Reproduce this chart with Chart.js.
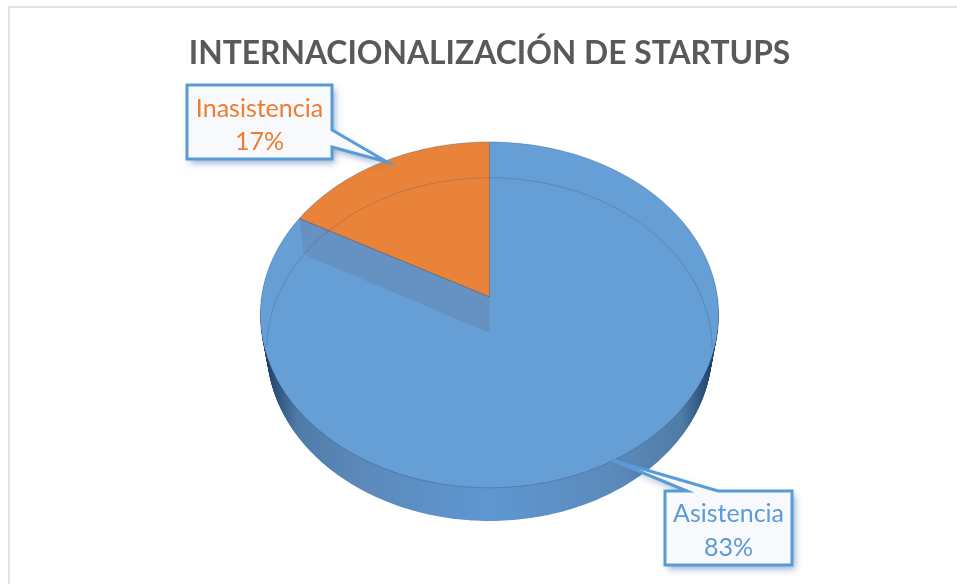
<!DOCTYPE html>
<html lang="es"><head><meta charset="utf-8">
<style>html,body{margin:0;padding:0;background:#fff}canvas{display:block}</style>
<script src="https://cdn.jsdelivr.net/npm/chart.js@4"></script>
</head><body>
<canvas id="c" width="957" height="584"></canvas>
<script>
const categories = ['Asistencia', 'Inasistencia'];
const values = [83, 17];
const sliceColors = ['#669fd6', '#e9833a'];
const labelColors = ['#5b9bd5', '#ed7d31'];
const chartTitle = 'INTERNACIONALIZACIÓN DE STARTUPS';

// Perspective camera: top face and the base of the extruded pie
const topFace = {dy: 0, p: 0.104, ry: 171, rx: 0.9948};
const baseFace = {dy: 36, p: 0.096, ry: 170, rx: 0.9673};
const wallColor = '#6592c2';
const LEVELS = 36;

function mix(a, b, t) { return a + (b - a) * t; }
function face(t) {
  return {dy: mix(topFace.dy, baseFace.dy, t), p: mix(topFace.p, baseFace.p, t),
          ry: mix(topFace.ry, baseFace.ry, t), rx: mix(topFace.rx, baseFace.rx, t)};
}
function project(el, f, a) {
  const u = Math.cos(a), v = Math.sin(a), d = 1 - f.p * v;
  return [el.x + el.outerRadius * f.rx * u / d, el.y + f.dy + f.ry * v / d];
}
function tracePath(ctx, el, f, withApex) {
  const n = Math.max(8, Math.ceil((el.endAngle - el.startAngle) * 60));
  ctx.beginPath();
  if (withApex) ctx.moveTo(el.x, el.y + f.dy);
  for (let i = 0; i <= n; i++) {
    const p = project(el, f, mix(el.startAngle, el.endAngle, i / n));
    if (i === 0 && !withApex) ctx.moveTo(p[0], p[1]); else ctx.lineTo(p[0], p[1]);
  }
  if (withApex) ctx.closePath();
}
function sideGradient(ctx, el) {
  const x = el.x, r = el.outerRadius;
  const g = ctx.createLinearGradient(x - r, 0, x + r, 0);
  g.addColorStop(0.00, '#16324f');
  g.addColorStop(0.03, '#2a4f78');
  g.addColorStop(0.08, '#4f7ba8');
  g.addColorStop(0.20, '#5b88b8');
  g.addColorStop(0.50, '#5f97d2');
  g.addColorStop(0.80, '#5b88b8');
  g.addColorStop(0.92, '#4f7ba8');
  g.addColorStop(0.97, '#2a4f78');
  g.addColorStop(1.00, '#16324f');
  return g;
}
Chart.ArcElement.prototype.draw = function (ctx) {
  const base = this.options.backgroundColor;
  ctx.save();
  ctx.lineJoin = 'round';
  if (base === sliceColors[0]) {
    const g = sideGradient(ctx, this);
    for (let i = LEVELS; i >= 1; i--) {
      tracePath(ctx, this, face(i / LEVELS), true);
      ctx.fillStyle = g;
      ctx.fill();
    }
  }
  tracePath(ctx, this, topFace, true);
  ctx.fillStyle = base;
  ctx.fill();
  // Cut wall seen through the slice edge
  if (base === sliceColors[1]) {
    const a = project(this, topFace, this.startAngle), b = project(this, baseFace, this.startAngle);
    ctx.beginPath();
    ctx.moveTo(this.x, this.y); ctx.lineTo(a[0], a[1]); ctx.lineTo(b[0], b[1]);
    ctx.lineTo(this.x, this.y + baseFace.dy); ctx.closePath();
    ctx.fillStyle = wallColor;
    ctx.fill();
    ctx.beginPath();
    ctx.moveTo(this.x, this.y); ctx.lineTo(a[0], a[1]);
    ctx.strokeStyle = 'rgba(70,70,80,0.55)';
    ctx.lineWidth = 1;
    ctx.stroke();
    ctx.beginPath();
    ctx.moveTo(this.x, this.y); ctx.lineTo(this.x, this.y - 155);
    ctx.strokeStyle = 'rgba(90,90,100,0.45)';
    ctx.stroke();
  }
  // Far base edge seen through the glass-like top, and the rim
  ctx.strokeStyle = 'rgba(50,70,100,0.25)';
  ctx.lineWidth = 1;
  ctx.save();
  ctx.beginPath();
  ctx.rect(0, 0, 957, this.y + 50);
  ctx.clip();
  tracePath(ctx, this, baseFace, false);
  ctx.stroke();
  ctx.restore();
  tracePath(ctx, this, topFace, false);
  ctx.strokeStyle = 'rgba(40,70,110,0.32)';
  ctx.stroke();
  ctx.restore();
};

const frameLines = {
  id: 'frameLines',
  beforeDraw(chart) {
    const ctx = chart.ctx;
    ctx.save();
    ctx.strokeStyle = '#d9d9d9';
    ctx.lineWidth = 1.5;
    ctx.beginPath();
    ctx.moveTo(9, 584); ctx.lineTo(9, 7); ctx.lineTo(957, 7);
    ctx.stroke();
    ctx.restore();
  }
};

const callouts = [
  {index: 1, box: [187, 85, 145, 74], leader: [[332, 130], [387, 162], [332, 147]], lines: [117, 150], cx: 259.5},
  {index: 0, box: [665, 491, 127, 74], leader: [[718, 491], [612, 460], [687, 491]], lines: [522, 556], cx: 728.5}
];
const calloutPlugin = {
  id: 'calloutPlugin',
  afterDraw(chart) {
    const ctx = chart.ctx;
    ctx.save();
    callouts.forEach(c => {
      const [x, y, w, h] = c.box, L = c.leader;
      const outline = () => {
        ctx.beginPath();
        if (c.index === 1) {
          ctx.moveTo(x, y); ctx.lineTo(x + w, y); ctx.lineTo(L[0][0], L[0][1]);
          ctx.lineTo(L[1][0], L[1][1]); ctx.lineTo(L[2][0], L[2][1]);
          ctx.lineTo(x + w, y + h); ctx.lineTo(x, y + h);
        } else {
          ctx.moveTo(x, y); ctx.lineTo(L[2][0], L[2][1]); ctx.lineTo(L[1][0], L[1][1]);
          ctx.lineTo(L[0][0], L[0][1]); ctx.lineTo(x + w, y);
          ctx.lineTo(x + w, y + h); ctx.lineTo(x, y + h);
        }
        ctx.closePath();
      };
      ctx.shadowColor = 'rgba(60,110,170,0.55)';
      ctx.shadowBlur = 7;
      ctx.shadowOffsetX = 3;
      ctx.shadowOffsetY = 4;
      outline();
      ctx.fillStyle = '#f7f9fd';
      ctx.fill();
      ctx.shadowColor = 'transparent';
      ctx.strokeStyle = '#5b9bd5';
      ctx.lineWidth = 3;
      ctx.lineJoin = 'miter';
      outline();
      ctx.stroke();
      ctx.fillStyle = labelColors[c.index];
      ctx.font = '400 25px Lato';
      ctx.textAlign = 'center';
      ctx.textBaseline = 'alphabetic';
      ctx.fillText(categories[c.index], c.cx, c.lines[0]);
      ctx.fillText(values[c.index] + '%', c.cx, c.lines[1]);
    });
    ctx.restore();
  }
};

new Chart(document.getElementById('c'), {
  type: 'pie',
  data: {labels: categories, datasets: [{data: values, backgroundColor: sliceColors, borderWidth: 0}]},
  options: {
    responsive: false,
    animation: false,
    events: [],
    layout: {padding: {left: 22, right: 0, top: 0, bottom: 58}},
    plugins: {
      legend: {display: false},
      tooltip: {enabled: false},
      title: {
        display: true, text: chartTitle, color: '#595959', align: 'center',
        font: {family: 'Lato', size: 31.8, weight: '700', lineHeight: 1},
        padding: {top: 38, bottom: -2}
      }
    }
  },
  plugins: [frameLines, calloutPlugin]
});
</script>
</body></html>
